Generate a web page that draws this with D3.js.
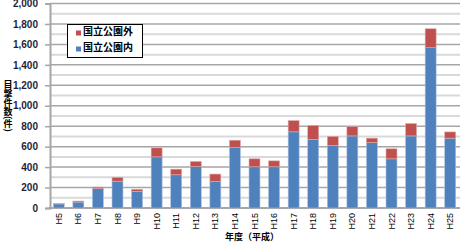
<!DOCTYPE html>
<html><head><meta charset="utf-8">
<script src="https://cdn.jsdelivr.net/npm/d3@7"></script>
<style>body{margin:0;background:#fff}svg{display:block}</style>
</head><body>
<svg id="c" width="460" height="242"></svg>
<script>
const categories = ["H5","H6","H7","H8","H9","H10","H11","H12","H13","H14","H15","H16","H17","H18","H19","H20","H21","H22","H23","H24","H25"];
const inside  = [40,58,190,262,163,500,325,405,260,592,403,403,745,670,612,705,640,481,705,1568,683];
const outside = [3,10,14,38,20,88,55,50,72,71,78,58,110,137,88,92,43,98,121,185,61];
const yTicks = [0,200,400,600,800,1000,1200,1400,1600,1800,2000];
const seriesNames = ["国立公園外","国立公園内"];
const colors = {in:"#4F81BD", out:"#C0504D"};

const svg = d3.select("#c");
const x = d3.scaleBand().domain(categories).range([49,460]).paddingInner(0.44).paddingOuter(0.22);
const y = d3.scaleLinear().domain([0,2000]).range([208,3.5]);
const font = "'Liberation Sans', Arial, sans-serif";
const jfont = "'Noto Sans CJK JP', sans-serif";

// minor gridlines
const minor = d3.range(100,2000,200);
svg.append("g").selectAll("line").data(minor).join("line")
  .attr("x1",50).attr("x2",460).attr("y1",d=>y(d)).attr("y2",d=>y(d))
  .attr("stroke","#d9d9d9").attr("stroke-width",2);
// major gridlines
svg.append("g").selectAll("line").data(yTicks.slice(1)).join("line")
  .attr("x1",50).attr("x2",460).attr("y1",d=>y(d)).attr("y2",d=>y(d))
  .attr("stroke","#a6a6a6").attr("stroke-width",1.5);

// y axis
const yAxis = d3.axisLeft(y).tickValues(yTicks).tickSize(5).tickPadding(7).tickFormat(d3.format(","));
const ga = svg.append("g").attr("transform","translate(50,0)").call(yAxis);
ga.select(".domain").attr("stroke","#a6a6a6").attr("stroke-width",2);
ga.selectAll(".tick line").attr("stroke","#a6a6a6").attr("stroke-width",1.5);
ga.selectAll(".tick text").attr("font-family",font).attr("font-size",10).attr("fill","#1f1f3a").attr("font-weight","bold");

// baseline
svg.append("line").attr("x1",49).attr("x2",460).attr("y1",y(0)).attr("y2",y(0))
  .attr("stroke","#a6a6a6").attr("stroke-width",2);

// bars
const g = svg.append("g");
categories.forEach((c,i)=>{
  g.append("rect").attr("x",x(c)).attr("width",x.bandwidth())
   .attr("y",y(inside[i])).attr("height",y(0)-y(inside[i]))
   .attr("fill",colors.in).attr("stroke","#a9c0e0").attr("stroke-width",0.6);
  g.append("rect").attr("x",x(c)).attr("width",x.bandwidth())
   .attr("y",y(inside[i]+outside[i])).attr("height",y(inside[i])-y(inside[i]+outside[i]))
   .attr("fill",colors.out).attr("stroke","#e0a9a8").attr("stroke-width",0.6);
});

// x labels
svg.append("g").selectAll("text").data(categories).join("text")
  .attr("transform",d=>`translate(${x(d)+x.bandwidth()/2+3},213) rotate(-90)`)
  .attr("text-anchor","end").attr("font-family",font).attr("font-size",9).attr("fill","#000")
  .text(d=>d);

// x title
svg.append("text").attr("x",252).attr("y",240).attr("text-anchor","middle")
  .attr("font-family",jfont).attr("font-size",9).attr("font-weight","bold").text("年度（平成）");

// y title (vertical writing)
svg.append("text").attr("x",8).attr("y",80)
  .style("writing-mode","vertical-rl")
  .attr("font-family",jfont).attr("font-size",9).attr("font-weight","bold").attr("fill","#000")
  .text("目撃件数(件)");

// legend
const lg = svg.append("g");
lg.append("rect").attr("x",67.5).attr("y",24.5).attr("width",75).attr("height",33)
  .attr("fill","#fff").attr("stroke","#000").attr("stroke-width",1);
const items = [{n:seriesNames[0],c:colors.out},{n:seriesNames[1],c:colors.in}];
items.forEach((it,i)=>{
  lg.append("rect").attr("x",76).attr("y",30.5+i*16).attr("width",5).attr("height",5).attr("fill",it.c);
  lg.append("text").attr("x",83).attr("y",35+i*16).attr("font-family",jfont).attr("font-size",10)
    .attr("font-weight","bold").attr("fill","#000").text(it.n);
});
</script>
</body></html>
